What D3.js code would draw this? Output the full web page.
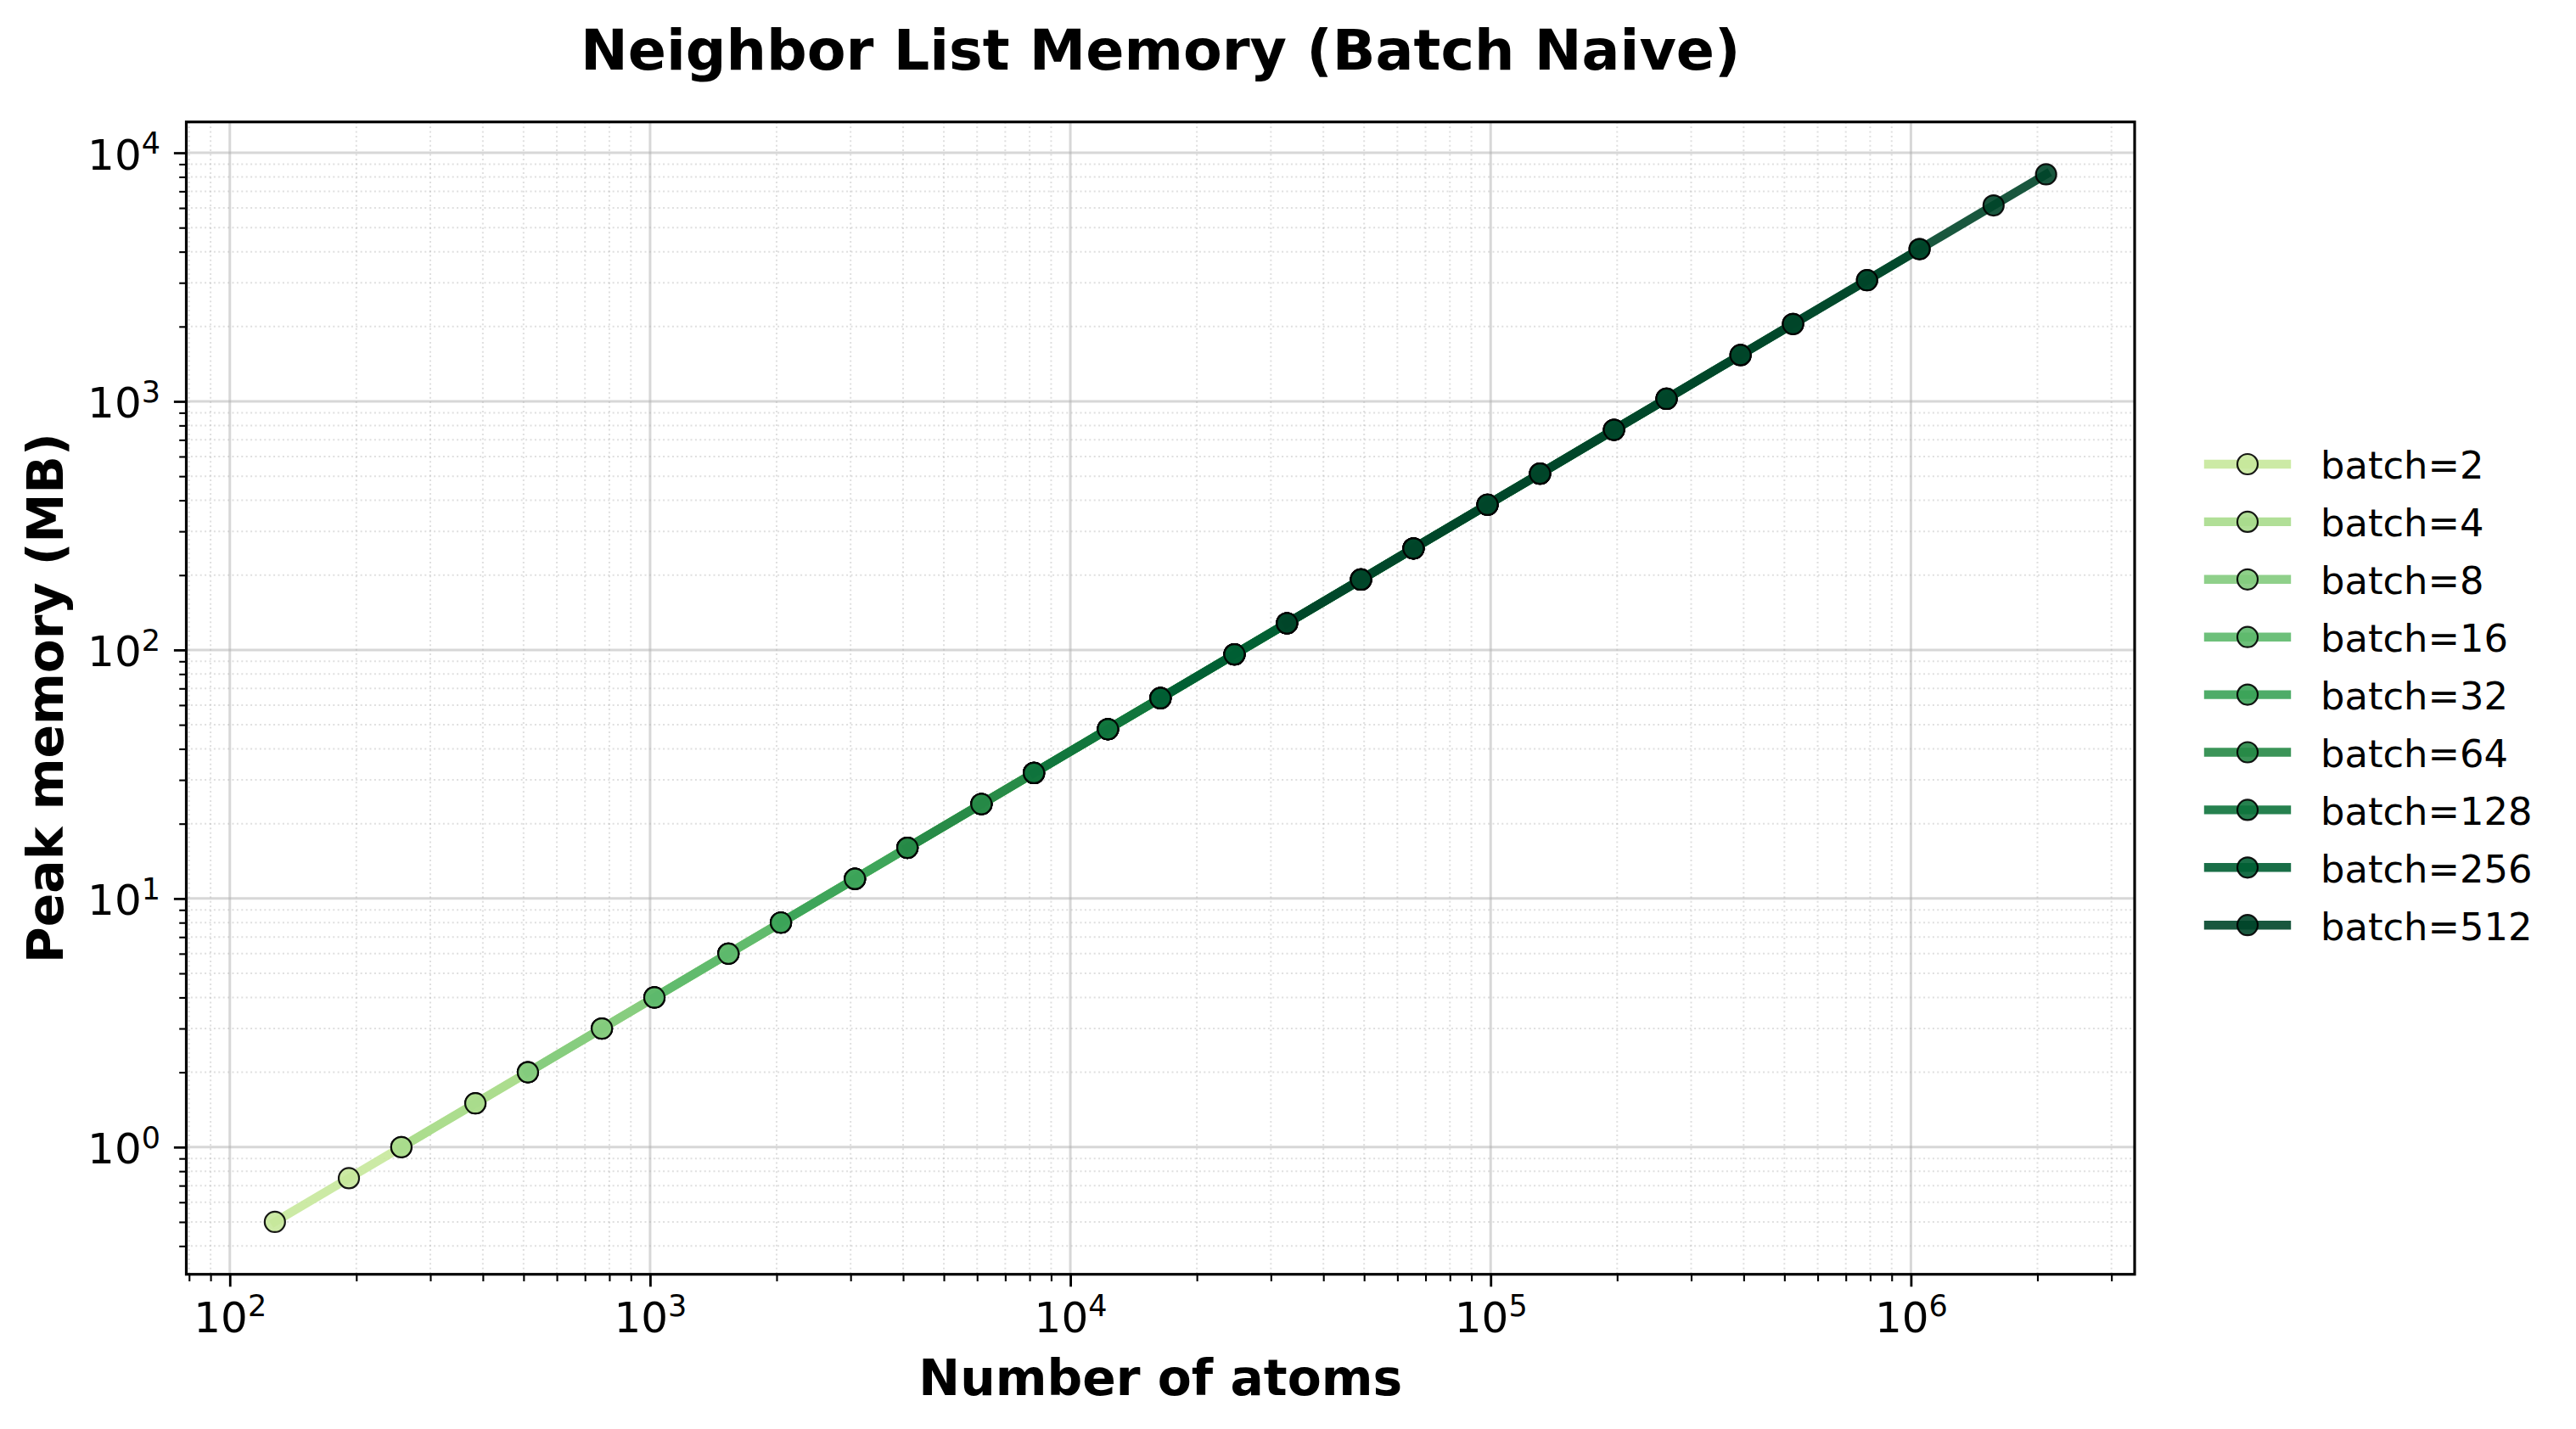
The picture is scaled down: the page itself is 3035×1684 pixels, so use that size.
<!DOCTYPE html>
<html>
<head>
<meta charset="utf-8">
<script src="https://cdn.jsdelivr.net/npm/d3@7"></script>
<style>
  body { margin: 0; background: #fff; }
  svg { display: block; font-family: "DejaVu Sans", sans-serif; }
</style>
</head>
<body>
<div class="chart"></div>
<script>
const batchSizes = [2, 4, 8, 16, 32, 64, 128, 256, 512]

const atomsB2 = [128, 192, 256, 384, 512, 768, 1024, 1536, 2048, 3072, 4096, 6144, 8192]
const atomsB4 = [256, 384, 512, 768, 1024, 1536, 2048, 3072, 4096, 6144, 8192, 12288, 16384]
const atomsB8 = [512, 768, 1024, 1536, 2048, 3072, 4096, 6144, 8192, 12288, 16384, 24576, 32768]
const atomsB16 = [1024, 1536, 2048, 3072, 4096, 6144, 8192, 12288, 16384, 24576, 32768, 49152, 65536]
const atomsB32 = [2048, 3072, 4096, 6144, 8192, 12288, 16384, 24576, 32768, 49152, 65536, 98304, 131072]
const atomsB64 = [4096, 6144, 8192, 12288, 16384, 24576, 32768, 49152, 65536, 98304, 131072, 196608, 262144]
const atomsB128 = [8192, 12288, 16384, 24576, 32768, 49152, 65536, 98304, 131072, 196608, 262144, 393216, 524288]
const atomsB256 = [16384, 24576, 32768, 49152, 65536, 98304, 131072, 196608, 262144, 393216, 524288, 786432, 1048576]
const atomsB512 = [32768, 49152, 65536, 98304, 131072, 196608, 262144, 393216, 524288, 786432, 1048576, 1572864, 2097152]

const memB2 = [0.5, 0.75, 1, 1.5, 2, 3, 4, 6, 8, 12, 16, 24, 32]
const memB4 = [1, 1.5, 2, 3, 4, 6, 8, 12, 16, 24, 32, 48, 64]
const memB8 = [2, 3, 4, 6, 8, 12, 16, 24, 32, 48, 64, 96, 128]
const memB16 = [4, 6, 8, 12, 16, 24, 32, 48, 64, 96, 128, 192, 256]
const memB32 = [8, 12, 16, 24, 32, 48, 64, 96, 128, 192, 256, 384, 512]
const memB64 = [16, 24, 32, 48, 64, 96, 128, 192, 256, 384, 512, 768, 1024]
const memB128 = [32, 48, 64, 96, 128, 192, 256, 384, 512, 768, 1024, 1536, 2048]
const memB256 = [64, 96, 128, 192, 256, 384, 512, 768, 1024, 1536, 2048, 3072, 4096]
const memB512 = [128, 192, 256, 384, 512, 768, 1024, 1536, 2048, 3072, 4096, 6144, 8192]

const xTickExps = [2, 3, 4, 5, 6]
const yTickExps = [0, 1, 2, 3, 4]

const atomsList = [atomsB2, atomsB4, atomsB8, atomsB16, atomsB32, atomsB64, atomsB128, atomsB256, atomsB512]
const memList = [memB2, memB4, memB8, memB16, memB32, memB64, memB128, memB256, memB512]

const series = batchSizes.map((b, i) => ({
  label: `batch=${b}`,
  points: atomsList[i].map((a, j) => [a, memList[i][j]])
}))

const width = 3035
const height = 1684
const box = {left: 219.5, right: 2515, top: 143.7, bottom: 1501.7}

// matplotlib YlGn, linear segments
const ylgn = ['#ffffe5', '#f7fcb9', '#d9f0a3', '#addd8e', '#78c679', '#41ab5d', '#238443', '#006837', '#004529']
const cmap = d3.scaleLinear()
  .domain(ylgn.map((c, i) => i / 8))
  .range(ylgn)
  .interpolate(d3.interpolateRgb)
const colorOf = i => cmap(0.3 + i * 0.7 / (batchSizes.length - 1))

const padLog = (vals) => {
  const lo = Math.log10(d3.min(vals)), hi = Math.log10(d3.max(vals))
  const m = (hi - lo) * 0.05
  return [10 ** (lo - m), 10 ** (hi + m)]
}

const allPts = series.flatMap(s => s.points)
const x = d3.scaleLog().domain(padLog(allPts.map(p => p[0]))).range([box.left, box.right])
const y = d3.scaleLog().domain(padLog(allPts.map(p => p[1]))).range([box.bottom, box.top])

const minorTicks = (scale) => {
  const [a, b] = scale.domain()
  const out = []
  for (let k = Math.floor(Math.log10(a)); k <= Math.ceil(Math.log10(b)); k++) {
    for (let m = 2; m <= 9; m++) {
      const v = m * 10 ** k
      if (v >= a && v <= b) out.push(v)
    }
  }
  return out
}
const xMajor = xTickExps.map(e => 10 ** e)
const yMajor = yTickExps.map(e => 10 ** e)
const xMinor = minorTicks(x)
const yMinor = minorTicks(y)

const svg = d3.select(".chart")
  .append("svg")
  .attr("width", width)
  .attr("height", height)

svg.append("rect")
  .attr("width", width)
  .attr("height", height)
  .attr("fill", "white")

// grid
const grid = svg.append("g").attr("class", "grid")
grid.selectAll(".xminor").data(xMinor).join("line")
  .attr("x1", d => x(d)).attr("x2", d => x(d))
  .attr("y1", box.top).attr("y2", box.bottom)
  .attr("stroke", "#b0b0b0").attr("stroke-opacity", 0.4)
  .attr("stroke-width", 2).attr("stroke-dasharray", "2,3.4")
grid.selectAll(".yminor").data(yMinor).join("line")
  .attr("y1", d => y(d)).attr("y2", d => y(d))
  .attr("x1", box.left).attr("x2", box.right)
  .attr("stroke", "#b0b0b0").attr("stroke-opacity", 0.4)
  .attr("stroke-width", 2).attr("stroke-dasharray", "2,3.4")
grid.selectAll(".xmajor").data(xMajor).join("line")
  .attr("x1", d => x(d)).attr("x2", d => x(d))
  .attr("y1", box.top).attr("y2", box.bottom)
  .attr("stroke", "#b0b0b0").attr("stroke-opacity", 0.5)
  .attr("stroke-width", 3)
grid.selectAll(".ymajor").data(yMajor).join("line")
  .attr("y1", d => y(d)).attr("y2", d => y(d))
  .attr("x1", box.left).attr("x2", box.right)
  .attr("stroke", "#b0b0b0").attr("stroke-opacity", 0.5)
  .attr("stroke-width", 3)

// series
const line = d3.line().x(d => x(d[0])).y(d => y(d[1]))
const plot = svg.append("g").attr("class", "series")
series.forEach((s, i) => {
  const c = colorOf(i)
  const g = plot.append("g")
  g.append("path")
    .attr("d", line(s.points))
    .attr("fill", "none")
    .attr("stroke", c)
    .attr("stroke-opacity", 0.9)
    .attr("stroke-width", 10.4)
    .attr("stroke-linejoin", "round")
    .attr("stroke-linecap", "square")
  g.selectAll("circle").data(s.points).join("circle")
    .attr("cx", d => x(d[0]))
    .attr("cy", d => y(d[1]))
    .attr("r", 12)
    .attr("fill", c)
    .attr("fill-opacity", 0.9)
    .attr("stroke", "black")
    .attr("stroke-opacity", 0.9)
    .attr("stroke-width", 2.2)
})

// axes
const styleAxis = (g) => {
  g.select(".domain").remove()
  g.selectAll(".tick line").attr("stroke", "black").attr("stroke-width", 2.8)
}
const powLabel = (sel, exps) => {
  sel.selectAll(".tick text").each(function (d, i) {
    const t = d3.select(this).text("")
      .attr("fill", "black")
      .attr("font-size", 50)
      .attr("font-family", "DejaVu Sans")
    t.append("tspan").text("10")
    t.append("tspan").attr("font-size", 35).attr("dy", -18.5).text(exps[i])
  })
}

const xAxis = svg.append("g")
  .attr("transform", `translate(0,${box.bottom})`)
  .call(d3.axisBottom(x).tickValues(xMajor).tickSize(14.6).tickPadding(14.6).tickFormat(() => ""))
xAxis.call(styleAxis)
xAxis.selectAll(".tick text").attr("dy", null).attr("y", 68)
xAxis.call(powLabel, xTickExps)

svg.append("g")
  .attr("transform", `translate(0,${box.bottom})`)
  .call(d3.axisBottom(x).tickValues(xMinor).tickSize(8.3).tickFormat(() => ""))
  .call(g => {
    g.select(".domain").remove()
    g.selectAll(".tick line").attr("stroke", "black").attr("stroke-width", 2.1)
  })

const yAxis = svg.append("g")
  .attr("transform", `translate(${box.left},0)`)
  .call(d3.axisLeft(y).tickValues(yMajor).tickSize(14.6).tickPadding(14.6).tickFormat(() => ""))
yAxis.call(styleAxis)
yAxis.selectAll(".tick text").attr("dy", null).attr("y", 19).attr("x", -30.5)
yAxis.call(powLabel, yTickExps)

svg.append("g")
  .attr("transform", `translate(${box.left},0)`)
  .call(d3.axisLeft(y).tickValues(yMinor).tickSize(8.3).tickFormat(() => ""))
  .call(g => {
    g.select(".domain").remove()
    g.selectAll(".tick line").attr("stroke", "black").attr("stroke-width", 2.1)
  })

// frame
svg.append("rect")
  .attr("x", box.left)
  .attr("y", box.top)
  .attr("width", box.right - box.left)
  .attr("height", box.bottom - box.top)
  .attr("fill", "none")
  .attr("stroke", "black")
  .attr("stroke-width", 3.2)

// titles
svg.append("text")
  .attr("x", (box.left + box.right) / 2)
  .attr("y", 81.7)
  .attr("text-anchor", "middle")
  .attr("font-size", 66.7)
  .attr("font-weight", "bold")
  .text("Neighbor List Memory (Batch Naive)")

svg.append("text")
  .attr("x", (box.left + box.right) / 2)
  .attr("y", 1644)
  .attr("text-anchor", "middle")
  .attr("font-size", 58.3)
  .attr("font-weight", "bold")
  .text("Number of atoms")

svg.append("text")
  .attr("transform", `translate(74,${(box.top + box.bottom) / 2}) rotate(-90)`)
  .attr("text-anchor", "middle")
  .attr("font-size", 58.3)
  .attr("font-weight", "bold")
  .text("Peak memory (MB)")

// legend
const legend = svg.append("g")
  .attr("class", "legend")
  .attr("transform", "translate(2602,547)")
  .selectAll("g")
  .data(series)
  .join("g")
  .attr("transform", (d, i) => `translate(0,${i * 67.9})`)

legend.append("line")
  .attr("x1", 0).attr("x2", 92)
  .attr("stroke", (d, i) => colorOf(i))
  .attr("stroke-opacity", 0.9)
  .attr("stroke-width", 10.4)
  .attr("stroke-linecap", "square")
legend.append("circle")
  .attr("cx", 46)
  .attr("r", 12)
  .attr("fill", (d, i) => colorOf(i))
  .attr("fill-opacity", 0.9)
  .attr("stroke", "black")
  .attr("stroke-opacity", 0.9)
  .attr("stroke-width", 2.2)
legend.append("text")
  .attr("x", 132)
  .attr("y", 17.3)
  .attr("font-size", 44.8)
  .text(d => d.label)
</script>
</body>
</html>
